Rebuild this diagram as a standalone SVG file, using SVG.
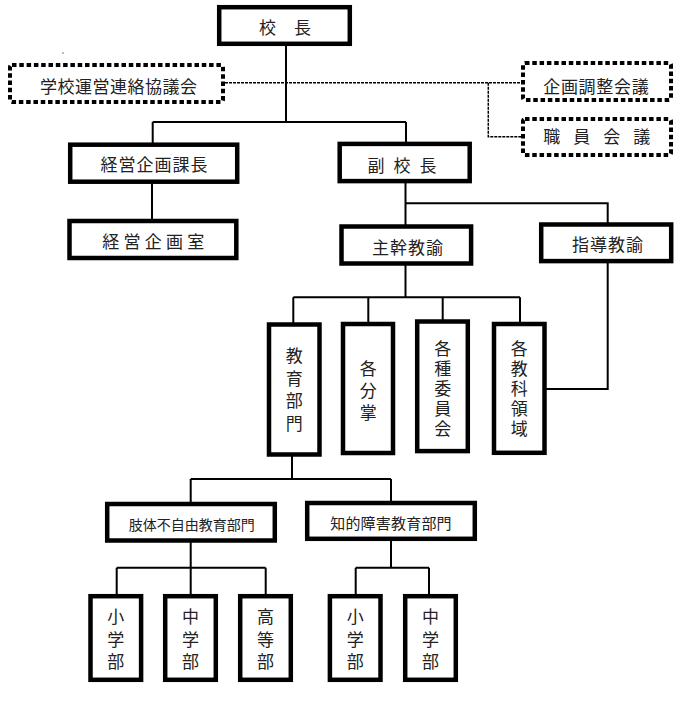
<svg xmlns="http://www.w3.org/2000/svg" width="685" height="707" viewBox="0 0 685 707">
<style>
.box{fill:#fff;stroke:#000;stroke-width:4.5}
.dbox{fill:#fff;stroke:#000;stroke-width:4;stroke-dasharray:4.5 2.8}
.t{font-family:"Noto Sans CJK JP","Noto Sans CJK SC",sans-serif;font-size:17px;fill:#222;text-anchor:middle}
.tv{font-family:"Noto Sans CJK JP","Noto Sans CJK SC",sans-serif;font-size:17px;fill:#222;text-anchor:middle;writing-mode:vertical-rl}
.ln{fill:none;stroke:#000;stroke-width:2}
.dl{fill:none;stroke:#000;stroke-width:1.5;stroke-dasharray:3 1}
</style>
<rect width="685" height="707" fill="#fff"/>
<circle cx="63" cy="53" r="0.7" fill="#444"/>
<g id="connectors">
<path class="dl" d="M225 82.7H521M488.3 82.7V136.7H521"/>
<path class="ln" d="M286 46V122M152.7 122H406M152.7 122V143M406 122V142M152 184V219"/>
<path class="ln" d="M405.5 183V225M405.5 203.3H607.7V223M405.5 265V297.3M293.3 297.3H520M293.3 297.3V323M368.3 297.3V322M442.7 297.3V320M520 297.3V322M607.7 263V389H546"/>
<path class="ln" d="M292 456V479M190.7 479H391M190.7 479V502M391 479V501M190.7 542V567.7M116.7 567.7H265.7M116.7 567.7V595M190.7 567.7V595M265.7 567.7V595M391 541V567.7M355.7 567.7H429M355.7 567.7V595M429 567.7V595"/>
</g>
<g id="kocho"><rect class="box" x="219.2" y="7.2" width="130.6" height="36.6"/><text class="t" x="288.5" y="34" xml:space="preserve" letter-spacing="7">校 長</text></g>
<g id="gakko-unei"><rect class="dbox" x="10" y="65" width="213" height="37" rx="2"/><text class="t" x="118.7" y="93" letter-spacing="0.5" fill="#333">学校運営連絡協議会</text></g>
<g id="kikaku-chosei"><rect class="dbox" x="523" y="63" width="148" height="37" rx="2"/><text class="t" x="596.3" y="93" letter-spacing="0.7" fill="#333">企画調整会議</text></g>
<g id="shokuin-kaigi"><rect class="dbox" x="523" y="119" width="148" height="36" rx="2"/><text class="t" x="599" y="142.7" xml:space="preserve" letter-spacing="4.6" fill="#333">職 員 会 議</text></g>
<g id="keiei-kacho"><rect class="box" x="70.2" y="144.7" width="167" height="37"/><text class="t" x="154.5" y="171" letter-spacing="1">経営企画課長</text></g>
<g id="fuku-kocho"><rect class="box" x="339.7" y="143.9" width="130" height="37.2"/><text class="t" x="403.3" y="171.7" xml:space="preserve" letter-spacing="2.6">副 校 長</text></g>
<g id="keiei-shitsu"><rect class="box" x="69.5" y="221" width="166.8" height="37"/><text class="t" x="155.4" y="247.7" letter-spacing="4.25">経営企画室</text></g>
<g id="shukan"><rect class="box" x="341.5" y="226.5" width="129.6" height="37"/><text class="t" x="408" y="254.3" letter-spacing="1">主幹教諭</text></g>
<g id="shido"><rect class="box" x="541.2" y="224.5" width="130" height="36.6"/><text class="t" x="608" y="251" letter-spacing="1">指導教諭</text></g>
<g id="kyoiku-bumon"><rect class="box" x="269" y="324.5" width="50.5" height="130"/><text class="tv" x="294.3" y="392.5" letter-spacing="5.5">教育部門</text></g>
<g id="kaku-bunsho"><rect class="box" x="343" y="324" width="50" height="129"/><text class="tv" x="368.3" y="393.3" letter-spacing="5.3">各分掌</text></g>
<g id="kakushu-iinkai"><rect class="box" x="417.2" y="321.5" width="50.6" height="129.6"/><text class="tv" x="442.7" y="389.8" letter-spacing="3">各種委員会</text></g>
<g id="kaku-kyoka"><rect class="box" x="494" y="324" width="50.5" height="128.8"/><text class="tv" x="519.3" y="389.8" letter-spacing="3">各教科領域</text></g>
<g id="shitai-bumon"><rect class="box" x="107.2" y="504" width="167.6" height="36.5"/><text class="t" x="191.7" y="530" style="font-size:14px">肢体不自由教育部門</text></g>
<g id="chiteki-bumon"><rect class="box" x="307.2" y="503" width="167.6" height="35.8"/><text class="t" x="391" y="528.6" style="font-size:15px" letter-spacing="0.2">知的障害教育部門</text></g>
<g id="shitai-sho"><rect class="box" x="90.5" y="596.2" width="50.6" height="83.6"/><text class="tv" x="115.8" y="642.2" letter-spacing="5.5">小学部</text></g>
<g id="shitai-chu"><rect class="box" x="165.2" y="596.2" width="50.6" height="83.6"/><text class="tv" x="190.5" y="642.2" letter-spacing="5.5">中学部</text></g>
<g id="shitai-koto"><rect class="box" x="240.2" y="596.2" width="50.6" height="83.6"/><text class="tv" x="265.5" y="642.2" letter-spacing="5.5">高等部</text></g>
<g id="chiteki-sho"><rect class="box" x="329.9" y="596.2" width="50.6" height="83.6"/><text class="tv" x="355.2" y="642.2" letter-spacing="5.5">小学部</text></g>
<g id="chiteki-chu"><rect class="box" x="405.2" y="596.2" width="50.6" height="83.6"/><text class="tv" x="430.5" y="642.2" letter-spacing="5.5">中学部</text></g>
</svg>
